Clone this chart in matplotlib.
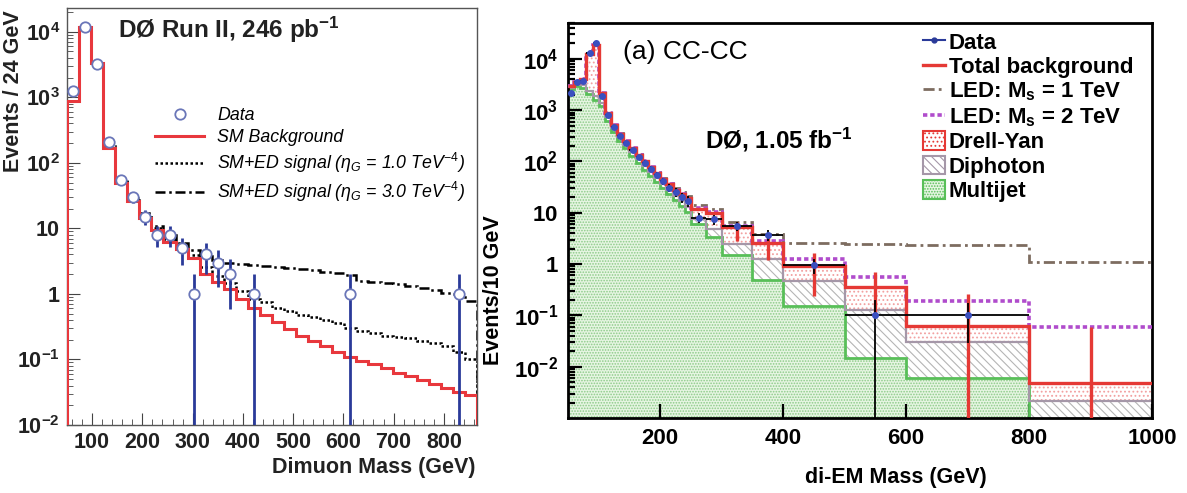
import matplotlib
matplotlib.use("Agg")
import matplotlib.pyplot as plt
import numpy as np
from matplotlib.lines import Line2D
from matplotlib.patches import Patch
from matplotlib.ticker import FixedLocator, LogLocator, FuncFormatter, NullFormatter, MultipleLocator

plt.rcParams['font.family'] = ['Liberation Sans', 'DejaVu Sans']
plt.rcParams['mathtext.fontset'] = 'custom'
plt.rcParams['mathtext.rm'] = 'Liberation Sans'
plt.rcParams['mathtext.it'] = 'Liberation Sans:italic'
plt.rcParams['mathtext.bf'] = 'Liberation Sans:bold'
plt.rcParams['hatch.linewidth'] = 0.8

# ---- left panel: dimuon mass, 24 GeV bins from 50 GeV ----
mu_edges = np.arange(50, 867, 24)
mu_bkg = [870, 12000, 3300, 170, 50, 26, 14.5, 9.5, 6.2, 4.8,
          3.5, 2.0, 1.5, 1.2, 0.85, 0.62, 0.47, 0.37, 0.29, 0.23,
          0.19, 0.16, 0.13, 0.11, 0.095, 0.085, 0.073, 0.063, 0.055, 0.048,
          0.042, 0.037, 0.032, 0.029]
mu_ed1 = [875, 12000, 3300, 172, 51, 27, 15, 10, 6.8, 5.2,
          3.9, 2.6, 1.9, 1.45, 1.1, 0.85, 0.75, 0.62, 0.55, 0.48,
          0.44, 0.40, 0.36, 0.30, 0.27, 0.25, 0.23, 0.22, 0.21, 0.19,
          0.18, 0.16, 0.13, 0.10]
mu_ed3 = [880, 12000, 3300, 180, 55, 29, 17, 11, 8.0, 6.0,
          4.6, 3.8, 3.3, 3.0, 2.9, 2.8, 2.7, 2.6, 2.5, 2.4,
          2.3, 2.15, 2.05, 1.95, 1.6, 1.5, 1.45, 1.4, 1.33, 1.25,
          1.15, 1.05, 1.0, 0.78]
mu_data_x = [62, 86, 110, 134, 158, 182, 206, 230, 254, 278, 302, 326, 350, 374, 422, 614, 830]
mu_data_y = [1260, 12000, 3200, 205, 55, 30, 15, 8, 8, 5, 1, 4, 3, 2, 1, 1, 1]

# ---- right panel: di-EM mass ----
ee_edges = [50, 60, 70, 80, 90, 100, 110, 120, 130, 140, 150, 160, 170, 180, 190,
            200, 210, 220, 230, 240, 250, 275, 300, 350, 400, 500, 600, 800, 1000]
ee_total = [2900, 3500, 4000, 12500, 19000, 2200, 900, 520, 350, 250,
            180, 135, 100, 77, 59, 46, 36, 28, 23, 19,
            12, 10, 5.3, 2.6, 0.9, 0.36, 0.063, 0.0049]
ee_multijet = [2600, 3000, 2700, 2100, 1600, 1200, 620, 370, 250, 180,
               128, 94, 69, 52, 39, 30, 23, 17.5, 13.5, 10.5,
               6.0, 3.4, 1.5, 0.5, 0.15, 0.015, 0.006, 0]
ee_diphoton = [150, 250, 350, 300, 250, 200, 130, 70, 45, 33,
               24, 18, 13.5, 10, 8, 6.5, 5, 4, 3.3, 2.7,
               1.7, 1.4, 1.0, 0.73, 0.32, 0.115, 0.024, 0.0021]
ee_led1 = [2900, 3500, 4000, 12500, 19000, 2200, 900, 520, 352, 252,
           182, 137, 102, 79, 61, 48, 38, 30, 25, 21,
           14, 12, 6.5, 3.8, 2.6, 2.45, 2.4, 1.1]
ee_led2 = [2900, 3500, 4000, 12500, 19000, 2200, 900, 520, 350, 250,
           180, 135, 100, 77, 59, 46, 36, 28, 23, 19,
           12.2, 10.3, 5.5, 2.8, 1.23, 0.55, 0.195, 0.059]
ee_data = [2200, 3500, 3700, 13000, 20000, 1900, 800, 470, 320, 225,
           165, 122, 95, 72, 55, 42, 31, 25, 20, 17,
           8, 7.5, 5.5, 3.7, 0.95, 0.1, 0.1, 0]
ee_err_x = [325, 375, 450, 550, 700, 900]
ee_err_lo = [2.8, 1.2, 0.24, 0.1, 0, 0]
ee_err_hi = [6.5, 3.3, 1.66, 0.7, 0.26, 0.059]

W, H = 1187, 493
fig = plt.figure(figsize=(W / 100, H / 100), dpi=100)

def fx(px):
    return px / W

def fy(py):
    return 1 - py / H

def log_fmt(v, pos):
    e = int(round(np.log10(v)))
    if e == 0:
        return r'$\mathbf{1}$'
    if e == 1:
        return r'$\mathbf{10}$'
    return r'$\mathbf{10^{%d}}$' % e

decades = [1e-2, 1e-1, 1, 10, 1e2, 1e3, 1e4]

# ================= left =================
ax1 = fig.add_axes([fx(67), fy(425), fx(410), 417 / H])
ax1.set_yscale('log')
ax1.stairs(mu_bkg, mu_edges, color='#e8383d', lw=2.2, zorder=3)
ax1.stairs(mu_ed1, mu_edges, color='black', lw=1.8, ls=(0, (1, 1)), zorder=2)
ax1.stairs(mu_ed3, mu_edges, color='black', lw=1.8, ls=(0, (4, 1.5, 1, 1.5)), zorder=2)
my = np.array(mu_data_y, dtype=float)
lo = np.maximum(my - np.sqrt(my), 1e-4)
hi = my + np.sqrt(my)
ax1.vlines(mu_data_x, lo, hi, color='#2a3a99', lw=2.0, zorder=4)
ax1.plot(mu_data_x, my, 'o', ms=7.5, mfc='white', mec='#6a76b8', mew=1.3, zorder=5)
ax1.set_xlim(50, 866)
ax1.set_ylim(1e-2, 2.3e4)
ax1.xaxis.set_major_locator(FixedLocator([100, 200, 300, 400, 500, 600, 700, 800]))
ax1.xaxis.set_minor_locator(MultipleLocator(20))
ax1.yaxis.set_major_locator(FixedLocator(decades))
ax1.yaxis.set_minor_locator(LogLocator(base=10, subs=np.arange(2, 10), numticks=20))
ax1.yaxis.set_major_formatter(FuncFormatter(log_fmt))
ax1.yaxis.set_minor_formatter(NullFormatter())
ax1.tick_params(which='both', direction='in', top=False, right=False, colors='#444444')
ax1.tick_params(which='major', length=9, labelsize=15.5, labelcolor='#222222', pad=5)
ax1.tick_params(which='minor', length=4.5)
for lab in ax1.get_xticklabels():
    lab.set_fontweight('bold')
for s in ax1.spines.values():
    s.set_color('#555555')
    s.set_linewidth(1.0)

h1 = [Line2D([], [], ls='none', marker='o', ms=7.5, mfc='white', mec='#6a76b8', mew=1.3),
      Line2D([], [], color='#e8383d', lw=2.2),
      Line2D([], [], color='black', lw=1.8, ls=(0, (1, 1))),
      Line2D([], [], color='black', lw=1.8, ls=(0, (4, 1.5, 1, 1.5)))]
l1 = ['Data', 'SM Background',
      r'SM+ED signal ($\eta_G$ = 1.0 TeV$^{-4}$)',
      r'SM+ED signal ($\eta_G$ = 3.0 TeV$^{-4}$)']
ax1.legend(h1, l1, loc='upper left', bbox_to_anchor=(0.215, 0.762), frameon=False,
           prop={'style': 'italic', 'size': 12.8}, handlelength=2.75, handletextpad=0.75,
           labelspacing=0.28, borderpad=0, borderaxespad=0)

fig.text(fx(118), fy(30), r'DØ Run II, 246 pb$^{\mathbf{-1}}$', fontsize=17.5,
         fontweight='bold', ha='left', va='center', color='#222222')
fig.text(fx(14), fy(10), 'Events / 24 GeV', rotation=90, ha='center', va='top',
         fontsize=15.5, fontweight='bold', color='#222222')
fig.text(fx(476), fy(467), 'Dimuon Mass (GeV)', ha='right', va='center',
         fontsize=15.5, fontweight='bold', color='#222222')

# ================= right =================
ax2 = fig.add_axes([fx(568), fy(418), fx(584), 395 / H])
ax2.set_yscale('log')
edges = np.array(ee_edges, dtype=float)
mj = np.maximum(np.array(ee_multijet, dtype=float), 1e-6)
gp = mj + np.array(ee_diphoton)
tot = np.array(ee_total, dtype=float)

ax2.stairs(mj, edges, baseline=1e-6, fill=True, facecolor='#e6f5e2', edgecolor='#8ccb88',
           lw=0, hatch='......', zorder=1)
ax2.stairs(gp, edges, baseline=mj, fill=True, facecolor='white', edgecolor='#b5b5b5',
           lw=0, hatch='\\\\\\\\', zorder=1)
ax2.stairs(tot, edges, baseline=gp, fill=True, facecolor='white', edgecolor='#f2a0a0',
           lw=0, hatch='....', zorder=1)
ax2.stairs(mj, edges, baseline=None, color='#58bf58', lw=2.0, zorder=2)
ax2.stairs(gp, edges, baseline=None, color='#a597a8', lw=1.6, zorder=2)
ax2.stairs(ee_led1, edges, baseline=None, color='#7d6c60', lw=2.0,
           ls=(0, (4, 1.5, 1, 1.5)), zorder=3)
ax2.stairs(ee_led2, edges, baseline=None, color='#b04ccc', lw=2.6, ls=(0, (1.2, 0.8)), zorder=3)
ax2.stairs(tot, edges, baseline=None, color='#e53935', lw=2.4, zorder=4)
ax2.vlines(ee_err_x, np.maximum(ee_err_lo, 1e-5), ee_err_hi, color='#e53935', lw=2.4, zorder=4)

cen = (edges[:-1] + edges[1:]) / 2
wid = edges[1:] - edges[:-1]
dv = np.array(ee_data, dtype=float)
n = dv * wid / 10
err = np.sqrt(n) * 10 / wid
m = dv > 0
ax2.errorbar(cen[m], dv[m], xerr=wid[m] / 2,
             yerr=[np.minimum(err[m], dv[m] - 1e-5), err[m]],
             fmt='o', ms=4, mfc='#3a4fc0', mec='#3a4fc0', ecolor='black',
             elinewidth=1.3, capsize=0, zorder=6)

ax2.set_xlim(50, 1000)
ax2.set_ylim(1e-3, 5e4)
ax2.xaxis.set_major_locator(FixedLocator([200, 400, 600, 800, 1000]))
ax2.yaxis.set_major_locator(FixedLocator(decades))
ax2.yaxis.set_minor_locator(LogLocator(base=10, subs=np.arange(2, 10), numticks=20))
ax2.yaxis.set_major_formatter(FuncFormatter(log_fmt))
ax2.yaxis.set_minor_formatter(NullFormatter())
ax2.tick_params(which='both', direction='in', top=False, right=False, width=1.6)
ax2.tick_params(which='major', length=10, labelsize=16, pad=7)
ax2.tick_params(which='minor', length=5)
ax2.set_xticks([], minor=True)
for lab in ax2.get_xticklabels():
    lab.set_fontweight('bold')
for s in ax2.spines.values():
    s.set_linewidth(2.0)

h2 = [Line2D([], [], color='#2a3a99', lw=1.5, marker='o', ms=3.5),
      Line2D([], [], color='#e53935', lw=2.4),
      Line2D([], [], color='#7d6c60', lw=2.0, ls=(0, (4, 1.5, 1, 1.5))),
      Line2D([], [], color='#b04ccc', lw=2.6, ls=(0, (1.2, 0.8))),
      Patch(facecolor='white', edgecolor='#e53935', hatch='....', lw=1.5),
      Patch(facecolor='white', edgecolor='#a597a8', hatch='\\\\\\\\', lw=1.5),
      Patch(facecolor='#e6f5e2', edgecolor='#58bf58', hatch='......', lw=1.5)]
l2 = ['Data', 'Total background', r'LED: M$_\mathbf{s}$ = 1 TeV', r'LED: M$_\mathbf{s}$ = 2 TeV',
      'Drell-Yan', 'Diphoton', 'Multijet']
ax2.legend(h2, l2, loc='upper left', bbox_to_anchor=(0.608, 0.978), frameon=False,
           prop={'weight': 'bold', 'size': 16}, handlelength=1.0, handleheight=0.9,
           handletextpad=0.15, labelspacing=0.12, borderpad=0, borderaxespad=0)

fig.text(fx(623), fy(52), '(a) CC-CC', fontsize=19, ha='left', va='center')
fig.text(fx(705), fy(140), r'DØ, 1.05 fb$^{\mathbf{-1}}$', fontsize=17.5, fontweight='bold',
         ha='left', va='center')
fig.text(fx(493), fy(290), 'Events/10 GeV', rotation=90, ha='center', va='center',
         fontsize=15.5, fontweight='bold')
fig.text(fx(896), fy(477), 'di-EM Mass (GeV)', ha='center', va='center',
         fontsize=15.5, fontweight='bold')

fig.savefig('out.png', dpi=100)
